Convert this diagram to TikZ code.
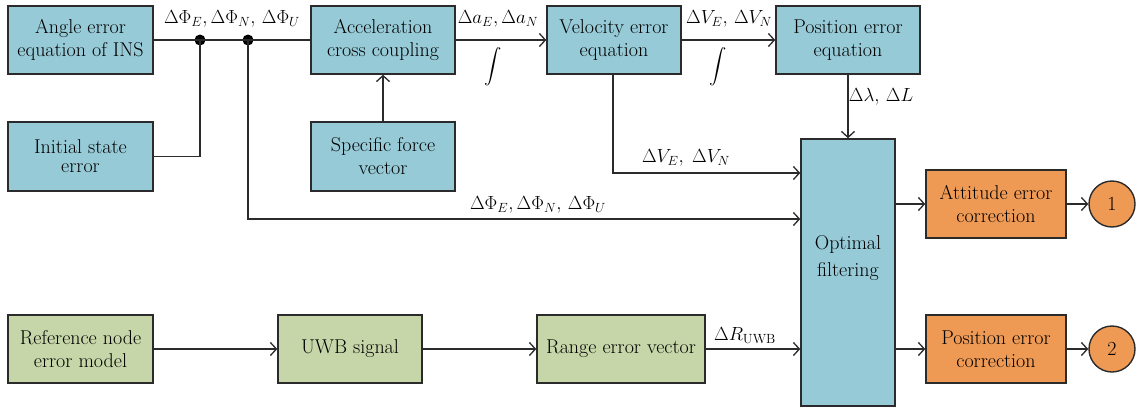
\RequirePackage{fix-cm}
\documentclass[tikz,border=0pt]{standalone}
\usepackage{exscale}
\usepackage{fontspec}
\usetikzlibrary{arrows.meta}
\definecolor{bluebox}{HTML}{97CAD7}
\definecolor{greenbox}{HTML}{C6D6A8}
\definecolor{orangebox}{HTML}{EE9A55}
\definecolor{edge}{HTML}{2B2B2B}
\tikzset{
  blk/.style={draw=edge, line width=1.4pt, inner sep=0pt, align=center, text=black, font=\fontsize{20}{23}\selectfont},
  bbox/.style={blk, fill=bluebox},
  gbox/.style={blk, fill=greenbox},
  obox/.style={blk, fill=orangebox},
  conn/.style={draw=edge, line width=1.3pt},
  arr/.style={conn, -{Straight Barb[length=6pt,width=13pt,line width=1.3pt]}},
  lbl/.style={inner sep=0pt, font=\fontsize{19}{23}\selectfont},
  dot/.style={circle, fill=black, inner sep=0pt, minimum size=11pt},
}
\begin{document}
\begin{tikzpicture}[x=1pt,y=-1pt]
\useasboundingbox (0,0) rectangle (1140,408);
% blue boxes
\node[bbox, minimum width=145pt, minimum height=68pt] (ang) at (80.5,40) {Angle error\\equation of INS};
\node[bbox, minimum width=145pt, minimum height=69pt] (init) at (80.5,156.5) {Initial state\\[-4pt]error};
\node[bbox, minimum width=144pt, minimum height=68pt] (acc) at (383,40) {Acceleration\\cross coupling};
\node[bbox, minimum width=144pt, minimum height=69pt] (sfv) at (383,156.5) {Specific force\\vector};
\node[bbox, minimum width=134pt, minimum height=68pt] (vel) at (614,40) {Velocity error\\equation};
\node[bbox, minimum width=144pt, minimum height=68pt] (pos) at (848,40) {Position error\\equation};
\node[bbox, minimum width=94pt, minimum height=267pt] (opt) at (848,272.5) {};
\node[lbl, align=center, font=\fontsize{20}{27}\selectfont] (optt) at (848,258) {Optimal\\filtering};
% green boxes
\node[gbox, minimum width=145pt, minimum height=68pt] (ref) at (80.5,349) {Reference node\\error model};
\node[gbox, minimum width=144pt, minimum height=68pt] (uwb) at (350,349) {UWB signal};
\node[gbox, minimum width=168pt, minimum height=68pt] (rng) at (621,349) {Range error vector};
% orange boxes
\node[obox, minimum width=140pt, minimum height=68pt] (att) at (996,204) {Attitude error\\correction};
\node[obox, minimum width=140pt, minimum height=68pt] (pcor) at (996,349) {Position error\\correction};
\node[obox, circle, minimum size=46pt] (c1) at (1112,204) {1};
\node[obox, circle, minimum size=46pt] (c2) at (1112,349) {2};
% junctions
\coordinate (j1) at (200,40);
\coordinate (j2) at (248,40);
\node[dot] (d1) at (j1) {};
\node[dot] (d2) at (j2) {};
% connectors top
\draw[conn] (ang.east) -- (acc.west);
\draw[conn] (init.east) -| (d1.center);
\coordinate (phiCorner) at (248,219);
\draw[arr] (d2.center) -- (phiCorner) -- (phiCorner -| opt.west);
\draw[arr] (sfv.north) -- (acc.south);
\draw[arr] (acc.east) -- (vel.west);
\draw[arr] (vel.east) -- (pos.west);
\coordinate (vCorner) at (613,173);
\draw[arr] (vel.south -| vCorner) -- (vCorner) -- (vCorner -| opt.west);
\draw[arr] (pos.south) -- (opt.north);
% outputs
\draw[arr] (opt.east |- att.west) -- (att.west);
\draw[arr] (att.east) -- (c1.west);
\draw[arr] (opt.east |- pcor.west) -- (pcor.west);
\draw[arr] (pcor.east) -- (c2.west);
% bottom chain
\draw[arr] (ref.east) -- (uwb.west);
\draw[arr] (uwb.east) -- (rng.west);
\draw[arr] (rng.east) -- (rng.east -| opt.west);
% labels
\node[lbl] (l1) at (232,19) {$\Delta\Phi_E,\Delta\Phi_N,\,\Delta\Phi_U$};
\node[lbl] (l2) at (498,19) {$\Delta a_E,\Delta a_N$};
\node[lbl] (l3) at (493,67) {$\displaystyle\int$};
\node[lbl] (l4) at (729,19) {$\Delta V_E,\,\Delta V_N$};
\node[lbl] (l5) at (718,67) {$\displaystyle\int$};
\node[lbl] (l6) at (881,97) {$\Delta\lambda,\,\Delta L$};
\node[lbl] (l7) at (686,158) {$\Delta V_E,\;\Delta V_N$};
\node[lbl] (l8) at (538,205) {$\Delta\Phi_E,\Delta\Phi_N,\,\Delta\Phi_U$};
\node[lbl] (l9) at (745,336) {$\Delta R_{\mathrm{UWB}}$};
\end{tikzpicture}
\end{document}
